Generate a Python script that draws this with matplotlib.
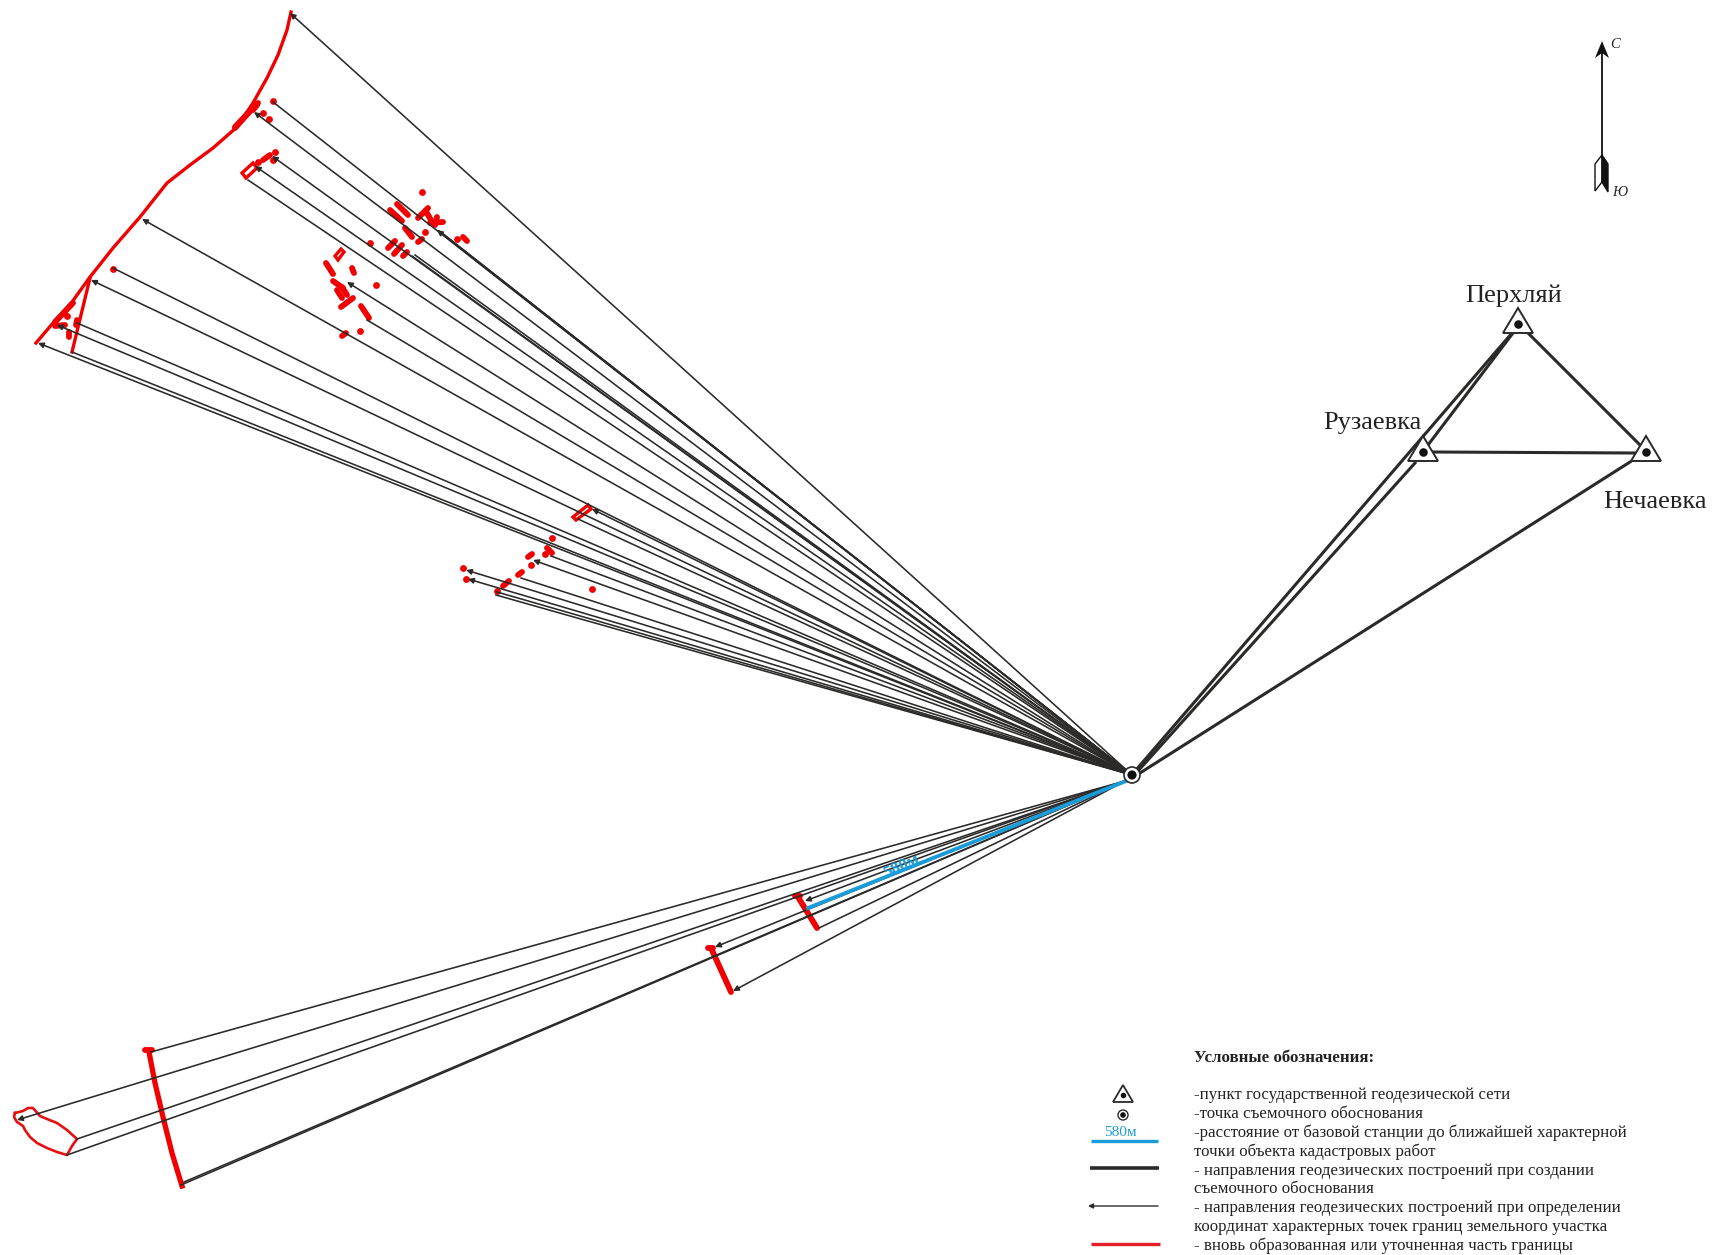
import matplotlib
matplotlib.use('Agg')
import matplotlib.pyplot as plt
from matplotlib.patches import Polygon, Circle

# all positions are in pixels of the scheme, y going down
stanciya = (1132, 775)

# upper fan
verh_x = [290, 273, 254, 272, 255, 248, 437, 439, 442, 444, 412, 415, 347, 367, 142, 113, 91, 77, 57, 38, 72,
          592, 578, 551, 533, 521, 466, 468, 497, 496]
verh_y = [13, 102, 112, 156, 166, 180, 230, 231, 233, 235, 256, 255, 282, 320, 219, 268, 280, 323, 325, 343, 352,
          509, 519, 556, 560, 578, 570, 579, 592, 595]
verh_arrow = [1, 0, 1, 1, 1, 0, 1, 0, 0, 0, 0, 0, 1, 0, 1, 0, 1, 0, 1, 1, 0,
              1, 0, 0, 1, 0, 1, 1, 0, 0]

# lower fan
niz_x = [151, 17, 77, 67, 181, 184, 805, 819, 715, 733]
niz_y = [1052, 1120, 1139, 1155, 1185, 1182, 901, 928, 947, 991]
niz_arrow = [0, 1, 0, 0, 0, 0, 1, 0, 1, 1]

# network points
punkty = ['Перхляй', 'Рузаевка', 'Нечаевка']
punkt_x = [1518, 1423, 1646]
punkt_y = [324, 452, 452]

# thick lines between the points and to the station
seti = [((1136, 770), (1512, 333)),
        ((1138, 771), (1415, 463)),
        ((1428, 445), (1513, 333)),
        ((1433, 452), (1635, 453)),
        ((1528, 333), (1640, 445)),
        ((1140, 773), (1630, 462))]

# red boundaries
granica_x = [291, 287, 278, 267, 253, 237, 213, 190, 167, 140, 113, 90, 72, 53, 36]
granica_y = [12, 30, 55, 78, 103, 127, 148, 165, 183, 217, 248, 277, 302, 323, 343]
granica2_x = [90, 72]
granica2_y = [278, 352]
polosa_x = [149, 155, 163, 172, 182]
polosa_y = [1052, 1083, 1117, 1153, 1186]
pyatno_x = [15, 23, 28, 33, 40, 47, 57, 67, 77, 72, 67, 57, 47, 37, 30, 25, 23, 17, 14, 15]
pyatno_y = [1113, 1111, 1108, 1108, 1116, 1119, 1123, 1130, 1139, 1146, 1155, 1152, 1148, 1143, 1137, 1130, 1126, 1122, 1117, 1113]

# buildings, as short thick strokes
stroenia = [((397, 204), (408, 215)), ((390, 210), (402, 221)), ((418, 218), (428, 208)),
            ((427, 213), (432, 222)), ((430, 223), (443, 222)), ((437, 217), (435, 225)),
            ((405, 228), (412, 237)), ((418, 242), (422, 239)), ((388, 248), (395, 241)),
            ((394, 254), (402, 245)), ((403, 256), (407, 252)), ((463, 237), (467, 241)),
            ((326, 263), (333, 274)), ((352, 268), (354, 273)), ((333, 281), (343, 288)),
            ((337, 290), (342, 298)), ((342, 287), (347, 295)), ((341, 307), (353, 298)),
            ((361, 306), (369, 318)), ((342, 336), (346, 333)), ((257, 105), (253, 110)),
            ((263, 160), (270, 155)), ((69, 332), (69, 337)), ((77, 320), (76, 325)),
            ((55, 326), (65, 325)), ((55, 322), (73, 303)), ((547, 548), (552, 553)),
            ((528, 557), (532, 554)), ((518, 575), (522, 572)), ((503, 586), (509, 581)),
            ((798, 897), (817, 928)), ((795, 896), (800, 896)), ((711, 948), (731, 992)),
            ((708, 948), (713, 948)), ((145, 1050), (152, 1050)),
            ((235, 128), (248, 113)), ((235, 127), (258, 103))]
tochki_x = [422, 370, 376, 360, 457, 425, 273, 263, 269, 275, 258, 273, 113, 67, 552, 545, 531, 497, 463, 466, 592]
tochki_y = [192, 243, 285, 331, 239, 232, 101, 113, 119, 152, 162, 160, 269, 316, 538, 554, 565, 591, 568, 579, 589]
ramki = [[(242, 173), (246, 178), (257, 168), (253, 163)],
         [(573, 517), (576, 520), (591, 509), (588, 505)],
         [(335, 256), (338, 260), (344, 252), (341, 249)]]

sinyaya_x = [1126, 808]
sinyaya_y = [781, 908]

legenda = ['-пункт государственной геодезической сети',
           '-точка съемочного обоснования',
           '-расстояние от базовой станции до ближайшей характерной',
           'точки объекта кадастровых работ',
           '- направления геодезических построений при создании',
           'съемочного обоснования',
           '- направления геодезических построений при определении',
           'координат характерных точек границ земельного участка',
           '- вновь образованная или уточненная часть границы']
legenda_y = [1095, 1114, 1133, 1152, 1171, 1189, 1208, 1227, 1246]

temny = '#2b2a29'
krasny = '#f00000'
siniy = '#1b9cd8'

plt.rcParams['font.family'] = ['Liberation Serif', 'DejaVu Serif']

fig = plt.figure(figsize=(17.14, 12.55), dpi=100)
ax = fig.add_axes([0, 0, 1, 1])
ax.set_xlim(0, 1714)
ax.set_ylim(1255, 0)
ax.axis('off')


def luch(x, y, arrow, start=stanciya):
    if arrow:
        ax.annotate('', xy=(x, y), xytext=start,
                    arrowprops=dict(arrowstyle='-|>', color=temny, lw=1.15, mutation_scale=8,
                                    shrinkA=0, shrinkB=0), zorder=3)
    else:
        ax.plot([start[0], x], [start[1], y], color=temny, lw=1.15, zorder=3)


# red first, the rays go over it
ax.plot(granica_x, granica_y, color=krasny, lw=2.4, zorder=2)
ax.plot(granica2_x, granica2_y, color=krasny, lw=2.4, zorder=2)
ax.plot(polosa_x, polosa_y, color=krasny, lw=3.8, zorder=2)
ax.plot(pyatno_x, pyatno_y, color='#e60f0f', lw=1.9, zorder=2)
for a, b in stroenia:
    ax.plot([a[0], b[0]], [a[1], b[1]], color=krasny, lw=4.2, solid_capstyle='round', zorder=2)
ax.scatter(tochki_x, tochki_y, s=24, color=krasny, linewidths=0, zorder=2)
for r in ramki:
    ax.add_patch(Polygon(r, closed=True, fill=False, edgecolor=krasny, lw=2.4, zorder=2))

for x, y, f in zip(verh_x, verh_y, verh_arrow):
    luch(x, y, f)
for x, y, f in zip(niz_x, niz_y, niz_arrow):
    luch(x, y, f, start=(1125, 781))

ax.plot(sinyaya_x, sinyaya_y, color=siniy, lw=2.8, zorder=4)
ax.text(902, 866, '580м', color=siniy, fontsize=12.5, fontweight='bold', rotation=25, rotation_mode='anchor',
        ha='center', va='center', zorder=5)

for a, b in seti:
    ax.plot([a[0], b[0]], [a[1], b[1]], color=temny, lw=2.2, zorder=3)

# triangles of the network
for x, y in zip(punkt_x, punkt_y):
    ax.add_patch(Polygon([(x, y - 16), (x - 15, y + 9), (x + 15, y + 9)], closed=True,
                         facecolor='white', edgecolor=temny, lw=1.4, zorder=5))
ax.scatter(punkt_x, punkt_y, s=38, color='#111111', linewidths=0, zorder=6)

ax.text(1465, 302, punkty[0], fontsize=19, color='#222222', va='baseline', zorder=6)
ax.text(1323, 429, punkty[1], fontsize=19, color='#222222', va='baseline', zorder=6)
ax.text(1603, 508, punkty[2], fontsize=19, color='#222222', va='baseline', zorder=6)

# station
ax.add_patch(Circle(stanciya, 8, facecolor='white', edgecolor=temny, lw=1.2, zorder=6))
ax.add_patch(Circle(stanciya, 4.6, facecolor='#111111', edgecolor='none', zorder=7))

# north arrow
ax.plot([1602, 1602], [50, 157], color='#111111', lw=1.3)
ax.add_patch(Polygon([(1602, 41), (1595, 58), (1602, 53), (1609, 58)], closed=True, color='#111111', lw=0))
ax.add_patch(Polygon([(1602, 155), (1595, 164), (1595, 191), (1602, 182)], closed=True,
                     facecolor='white', edgecolor='#111111', lw=1.0))
ax.add_patch(Polygon([(1602, 155), (1608, 164), (1608, 192), (1602, 182)], closed=True,
                     facecolor='#111111', edgecolor='#111111', lw=1.0))
ax.text(1610, 45, 'С', style='italic', fontsize=10.5, va='center', color='#222222')
ax.text(1612, 192, 'Ю', style='italic', fontsize=10.5, va='center', color='#222222')

# legend
ax.text(1194, 1058, 'Условные обозначения:', fontsize=12.2, fontweight='bold', va='center', color='#222222')
for s, y in zip(legenda, legenda_y):
    ax.text(1194, y, s, fontsize=12.2, va='center', color='#222222')

ax.add_patch(Polygon([(1123, 1085), (1113, 1102), (1133, 1102)], closed=True,
                     facecolor='white', edgecolor=temny, lw=1.3))
ax.scatter([1123], [1095], s=16, color='#111111', linewidths=0, zorder=4)
ax.add_patch(Circle((1123, 1115), 5, facecolor='white', edgecolor=temny, lw=1.0))
ax.add_patch(Circle((1123, 1115), 2.8, facecolor='#111111', edgecolor='none', zorder=4))
ax.text(1120, 1133, '580м', color=siniy, fontsize=11, ha='center', va='center')
ax.plot([1091, 1158], [1141, 1141], color=siniy, lw=2.4, solid_capstyle='butt')
ax.plot([1090, 1159], [1168, 1168], color=temny, lw=2.6, solid_capstyle='butt')
ax.annotate('', xy=(1088, 1206), xytext=(1158, 1206),
            arrowprops=dict(arrowstyle='-|>', color=temny, lw=1.0, mutation_scale=7, shrinkA=0, shrinkB=0))
ax.plot([1091, 1160], [1244, 1244], color='#e3202a', lw=2.4, solid_capstyle='butt')

fig.savefig('out.png', dpi=100, facecolor='white')
